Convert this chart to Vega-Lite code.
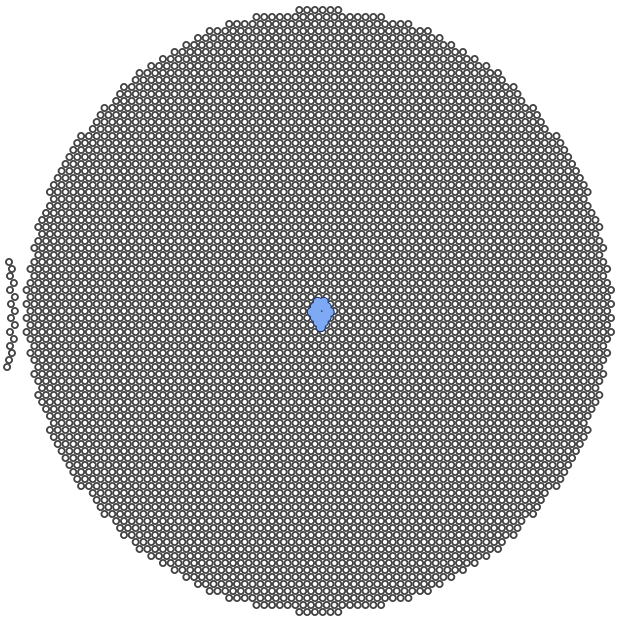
{"$schema":"https://vega.github.io/schema/vega-lite/v6.json","width":618,"height":619,"padding":0,"autosize":{"type":"fit","contains":"padding"},"background":"white","config":{"view":{"stroke":null}},
"datasets":{"blue":[{"x":316,"y":302},{"x":322,"y":302},{"x":313,"y":307},{"x":319,"y":307},{"x":325,"y":307},{"x":310,"y":312},{"x":316,"y":312},{"x":322,"y":312},{"x":328,"y":312},{"x":313,"y":317},{"x":319,"y":317},{"x":325,"y":317},{"x":316,"y":322},{"x":322,"y":322},{"x":319,"y":327}],"center":[{"x":320,"y":311}]},
"encoding":{"x":{"field":"x","type":"quantitative","scale":{"domain":[0,618],"nice":false,"zero":false},"axis":null},"y":{"field":"y","type":"quantitative","scale":{"domain":[0,619],"reverse":true,"nice":false,"zero":false},"axis":null}},
"layer":[
{"data":{"values":"x y\n-1 262\n2 269\n0 276\n4 283\n0 290\n5 297\n1 304\n5 311\n1 318\n5 325\n0 332\n4 339\n0 346\n2 353\n-1 360\n-3 367\n297 10\n305 10\n313 10\n321 10\n329 10\n337 10\n253 17\n261 17\n269 17\n277 17\n285 17\n293 17\n301 17\n309 17\n317 17\n325 17\n333 17\n341 17\n349 17\n357 17\n365 17\n373 17\n381 17\n225 24\n233 24\n241 24\n249 24\n257 24\n265 24\n273 24\n281 24\n289 24\n297 24\n305 24\n313 24\n321 24\n329 24\n337 24\n345 24\n353 24\n361 24\n369 24\n377 24\n385 24\n393 24\n401 24\n409 24\n205 31\n213 31\n221 31\n229 31\n237 31\n245 31\n253 31\n261 31\n269 31\n277 31\n285 31\n293 31\n301 31\n309 31\n317 31\n325 31\n333 31\n341 31\n349 31\n357 31\n365 31\n373 31\n381 31\n389 31\n397 31\n405 31\n413 31\n421 31\n429 31\n193 38\n201 38\n209 38\n217 38\n225 38\n233 38\n241 38\n249 38\n257 38\n265 38\n273 38\n281 38\n289 38\n297 38\n305 38\n313 38\n321 38\n329 38\n337 38\n345 38\n353 38\n361 38\n369 38\n377 38\n385 38\n393 38\n401 38\n409 38\n417 38\n425 38\n433 38\n441 38\n181 45\n189 45\n197 45\n205 45\n213 45\n221 45\n229 45\n237 45\n245 45\n253 45\n261 45\n269 45\n277 45\n285 45\n293 45\n301 45\n309 45\n317 45\n325 45\n333 45\n341 45\n349 45\n357 45\n365 45\n373 45\n381 45\n389 45\n397 45\n405 45\n413 45\n421 45\n429 45\n437 45\n445 45\n453 45\n169 52\n177 52\n185 52\n193 52\n201 52\n209 52\n217 52\n225 52\n233 52\n241 52\n249 52\n257 52\n265 52\n273 52\n281 52\n289 52\n297 52\n305 52\n313 52\n321 52\n329 52\n337 52\n345 52\n353 52\n361 52\n369 52\n377 52\n385 52\n393 52\n401 52\n409 52\n417 52\n425 52\n433 52\n441 52\n449 52\n457 52\n465 52\n157 59\n165 59\n173 59\n181 59\n189 59\n197 59\n205 59\n213 59\n221 59\n229 59\n237 59\n245 59\n253 59\n261 59\n269 59\n277 59\n285 59\n293 59\n301 59\n309 59\n317 59\n325 59\n333 59\n341 59\n349 59\n357 59\n365 59\n373 59\n381 59\n389 59\n397 59\n405 59\n413 59\n421 59\n429 59\n437 59\n445 59\n453 59\n461 59\n469 59\n477 59\n145 66\n153 66\n161 66\n169 66\n177 66\n185 66\n193 66\n201 66\n209 66\n217 66\n225 66\n233 66\n241 66\n249 66\n257 66\n265 66\n273 66\n281 66\n289 66\n297 66\n305 66\n313 66\n321 66\n329 66\n337 66\n345 66\n353 66\n361 66\n369 66\n377 66\n385 66\n393 66\n401 66\n409 66\n417 66\n425 66\n433 66\n441 66\n449 66\n457 66\n465 66\n473 66\n481 66\n489 66\n133 73\n141 73\n149 73\n157 73\n165 73\n173 73\n181 73\n189 73\n197 73\n205 73\n213 73\n221 73\n229 73\n237 73\n245 73\n253 73\n261 73\n269 73\n277 73\n285 73\n293 73\n301 73\n309 73\n317 73\n325 73\n333 73\n341 73\n349 73\n357 73\n365 73\n373 73\n381 73\n389 73\n397 73\n405 73\n413 73\n421 73\n429 73\n437 73\n445 73\n453 73\n461 73\n469 73\n477 73\n485 73\n493 73\n501 73\n129 80\n137 80\n145 80\n153 80\n161 80\n169 80\n177 80\n185 80\n193 80\n201 80\n209 80\n217 80\n225 80\n233 80\n241 80\n249 80\n257 80\n265 80\n273 80\n281 80\n289 80\n297 80\n305 80\n313 80\n321 80\n329 80\n337 80\n345 80\n353 80\n361 80\n369 80\n377 80\n385 80\n393 80\n401 80\n409 80\n417 80\n425 80\n433 80\n441 80\n449 80\n457 80\n465 80\n473 80\n481 80\n489 80\n497 80\n505 80\n117 87\n125 87\n133 87\n141 87\n149 87\n157 87\n165 87\n173 87\n181 87\n189 87\n197 87\n205 87\n213 87\n221 87\n229 87\n237 87\n245 87\n253 87\n261 87\n269 87\n277 87\n285 87\n293 87\n301 87\n309 87\n317 87\n325 87\n333 87\n341 87\n349 87\n357 87\n365 87\n373 87\n381 87\n389 87\n397 87\n405 87\n413 87\n421 87\n429 87\n437 87\n445 87\n453 87\n461 87\n469 87\n477 87\n485 87\n493 87\n501 87\n509 87\n517 87\n113 94\n121 94\n129 94\n137 94\n145 94\n153 94\n161 94\n169 94\n177 94\n185 94\n193 94\n201 94\n209 94\n217 94\n225 94\n233 94\n241 94\n249 94\n257 94\n265 94\n273 94\n281 94\n289 94\n297 94\n305 94\n313 94\n321 94\n329 94\n337 94\n345 94\n353 94\n361 94\n369 94\n377 94\n385 94\n393 94\n401 94\n409 94\n417 94\n425 94\n433 94\n441 94\n449 94\n457 94\n465 94\n473 94\n481 94\n489 94\n497 94\n505 94\n513 94\n521 94\n109 101\n117 101\n125 101\n133 101\n141 101\n149 101\n157 101\n165 101\n173 101\n181 101\n189 101\n197 101\n205 101\n213 101\n221 101\n229 101\n237 101\n245 101\n253 101\n261 101\n269 101\n277 101\n285 101\n293 101\n301 101\n309 101\n317 101\n325 101\n333 101\n341 101\n349 101\n357 101\n365 101\n373 101\n381 101\n389 101\n397 101\n405 101\n413 101\n421 101\n429 101\n437 101\n445 101\n453 101\n461 101\n469 101\n477 101\n485 101\n493 101\n501 101\n509 101\n517 101\n525 101\n97 108\n105 108\n113 108\n121 108\n129 108\n137 108\n145 108\n153 108\n161 108\n169 108\n177 108\n185 108\n193 108\n201 108\n209 108\n217 108\n225 108\n233 108\n241 108\n249 108\n257 108\n265 108\n273 108\n281 108\n289 108\n297 108\n305 108\n313 108\n321 108\n329 108\n337 108\n345 108\n353 108\n361 108\n369 108\n377 108\n385 108\n393 108\n401 108\n409 108\n417 108\n425 108\n433 108\n441 108\n449 108\n457 108\n465 108\n473 108\n481 108\n489 108\n497 108\n505 108\n513 108\n521 108\n529 108\n537 108\n93 115\n101 115\n109 115\n117 115\n125 115\n133 115\n141 115\n149 115\n157 115\n165 115\n173 115\n181 115\n189 115\n197 115\n205 115\n213 115\n221 115\n229 115\n237 115\n245 115\n253 115\n261 115\n269 115\n277 115\n285 115\n293 115\n301 115\n309 115\n317 115\n325 115\n333 115\n341 115\n349 115\n357 115\n365 115\n373 115\n381 115\n389 115\n397 115\n405 115\n413 115\n421 115\n429 115\n437 115\n445 115\n453 115\n461 115\n469 115\n477 115\n485 115\n493 115\n501 115\n509 115\n517 115\n525 115\n533 115\n541 115\n89 122\n97 122\n105 122\n113 122\n121 122\n129 122\n137 122\n145 122\n153 122\n161 122\n169 122\n177 122\n185 122\n193 122\n201 122\n209 122\n217 122\n225 122\n233 122\n241 122\n249 122\n257 122\n265 122\n273 122\n281 122\n289 122\n297 122\n305 122\n313 122\n321 122\n329 122\n337 122\n345 122\n353 122\n361 122\n369 122\n377 122\n385 122\n393 122\n401 122\n409 122\n417 122\n425 122\n433 122\n441 122\n449 122\n457 122\n465 122\n473 122\n481 122\n489 122\n497 122\n505 122\n513 122\n521 122\n529 122\n537 122\n545 122\n85 129\n93 129\n101 129\n109 129\n117 129\n125 129\n133 129\n141 129\n149 129\n157 129\n165 129\n173 129\n181 129\n189 129\n197 129\n205 129\n213 129\n221 129\n229 129\n237 129\n245 129\n253 129\n261 129\n269 129\n277 129\n285 129\n293 129\n301 129\n309 129\n317 129\n325 129\n333 129\n341 129\n349 129\n357 129\n365 129\n373 129\n381 129\n389 129\n397 129\n405 129\n413 129\n421 129\n429 129\n437 129\n445 129\n453 129\n461 129\n469 129\n477 129\n485 129\n493 129\n501 129\n509 129\n517 129\n525 129\n533 129\n541 129\n549 129\n73 136\n81 136\n89 136\n97 136\n105 136\n113 136\n121 136\n129 136\n137 136\n145 136\n153 136\n161 136\n169 136\n177 136\n185 136\n193 136\n201 136\n209 136\n217 136\n225 136\n233 136\n241 136\n249 136\n257 136\n265 136\n273 136\n281 136\n289 136\n297 136\n305 136\n313 136\n321 136\n329 136\n337 136\n345 136\n353 136\n361 136\n369 136\n377 136\n385 136\n393 136\n401 136\n409 136\n417 136\n425 136\n433 136\n441 136\n449 136\n457 136\n465 136\n473 136\n481 136\n489 136\n497 136\n505 136\n513 136\n521 136\n529 136\n537 136\n545 136\n553 136\n561 136\n69 143\n77 143\n85 143\n93 143\n101 143\n109 143\n117 143\n125 143\n133 143\n141 143\n149 143\n157 143\n165 143\n173 143\n181 143\n189 143\n197 143\n205 143\n213 143\n221 143\n229 143\n237 143\n245 143\n253 143\n261 143\n269 143\n277 143\n285 143\n293 143\n301 143\n309 143\n317 143\n325 143\n333 143\n341 143\n349 143\n357 143\n365 143\n373 143\n381 143\n389 143\n397 143\n405 143\n413 143\n421 143\n429 143\n437 143\n445 143\n453 143\n461 143\n469 143\n477 143\n485 143\n493 143\n501 143\n509 143\n517 143\n525 143\n533 143\n541 143\n549 143\n557 143\n565 143\n65 150\n73 150\n81 150\n89 150\n97 150\n105 150\n113 150\n121 150\n129 150\n137 150\n145 150\n153 150\n161 150\n169 150\n177 150\n185 150\n193 150\n201 150\n209 150\n217 150\n225 150\n233 150\n241 150\n249 150\n257 150\n265 150\n273 150\n281 150\n289 150\n297 150\n305 150\n313 150\n321 150\n329 150\n337 150\n345 150\n353 150\n361 150\n369 150\n377 150\n385 150\n393 150\n401 150\n409 150\n417 150\n425 150\n433 150\n441 150\n449 150\n457 150\n465 150\n473 150\n481 150\n489 150\n497 150\n505 150\n513 150\n521 150\n529 150\n537 150\n545 150\n553 150\n561 150\n569 150\n61 157\n69 157\n77 157\n85 157\n93 157\n101 157\n109 157\n117 157\n125 157\n133 157\n141 157\n149 157\n157 157\n165 157\n173 157\n181 157\n189 157\n197 157\n205 157\n213 157\n221 157\n229 157\n237 157\n245 157\n253 157\n261 157\n269 157\n277 157\n285 157\n293 157\n301 157\n309 157\n317 157\n325 157\n333 157\n341 157\n349 157\n357 157\n365 157\n373 157\n381 157\n389 157\n397 157\n405 157\n413 157\n421 157\n429 157\n437 157\n445 157\n453 157\n461 157\n469 157\n477 157\n485 157\n493 157\n501 157\n509 157\n517 157\n525 157\n533 157\n541 157\n549 157\n557 157\n565 157\n573 157\n57 164\n65 164\n73 164\n81 164\n89 164\n97 164\n105 164\n113 164\n121 164\n129 164\n137 164\n145 164\n153 164\n161 164\n169 164\n177 164\n185 164\n193 164\n201 164\n209 164\n217 164\n225 164\n233 164\n241 164\n249 164\n257 164\n265 164\n273 164\n281 164\n289 164\n297 164\n305 164\n313 164\n321 164\n329 164\n337 164\n345 164\n353 164\n361 164\n369 164\n377 164\n385 164\n393 164\n401 164\n409 164\n417 164\n425 164\n433 164\n441 164\n449 164\n457 164\n465 164\n473 164\n481 164\n489 164\n497 164\n505 164\n513 164\n521 164\n529 164\n537 164\n545 164\n553 164\n561 164\n569 164\n577 164\n53 171\n61 171\n69 171\n77 171\n85 171\n93 171\n101 171\n109 171\n117 171\n125 171\n133 171\n141 171\n149 171\n157 171\n165 171\n173 171\n181 171\n189 171\n197 171\n205 171\n213 171\n221 171\n229 171\n237 171\n245 171\n253 171\n261 171\n269 171\n277 171\n285 171\n293 171\n301 171\n309 171\n317 171\n325 171\n333 171\n341 171\n349 171\n357 171\n365 171\n373 171\n381 171\n389 171\n397 171\n405 171\n413 171\n421 171\n429 171\n437 171\n445 171\n453 171\n461 171\n469 171\n477 171\n485 171\n493 171\n501 171\n509 171\n517 171\n525 171\n533 171\n541 171\n549 171\n557 171\n565 171\n573 171\n581 171\n49 178\n57 178\n65 178\n73 178\n81 178\n89 178\n97 178\n105 178\n113 178\n121 178\n129 178\n137 178\n145 178\n153 178\n161 178\n169 178\n177 178\n185 178\n193 178\n201 178\n209 178\n217 178\n225 178\n233 178\n241 178\n249 178\n257 178\n265 178\n273 178\n281 178\n289 178\n297 178\n305 178\n313 178\n321 178\n329 178\n337 178\n345 178\n353 178\n361 178\n369 178\n377 178\n385 178\n393 178\n401 178\n409 178\n417 178\n425 178\n433 178\n441 178\n449 178\n457 178\n465 178\n473 178\n481 178\n489 178\n497 178\n505 178\n513 178\n521 178\n529 178\n537 178\n545 178\n553 178\n561 178\n569 178\n577 178\n585 178\n45 185\n53 185\n61 185\n69 185\n77 185\n85 185\n93 185\n101 185\n109 185\n117 185\n125 185\n133 185\n141 185\n149 185\n157 185\n165 185\n173 185\n181 185\n189 185\n197 185\n205 185\n213 185\n221 185\n229 185\n237 185\n245 185\n253 185\n261 185\n269 185\n277 185\n285 185\n293 185\n301 185\n309 185\n317 185\n325 185\n333 185\n341 185\n349 185\n357 185\n365 185\n373 185\n381 185\n389 185\n397 185\n405 185\n413 185\n421 185\n429 185\n437 185\n445 185\n453 185\n461 185\n469 185\n477 185\n485 185\n493 185\n501 185\n509 185\n517 185\n525 185\n533 185\n541 185\n549 185\n557 185\n565 185\n573 185\n581 185\n589 185\n41 192\n49 192\n57 192\n65 192\n73 192\n81 192\n89 192\n97 192\n105 192\n113 192\n121 192\n129 192\n137 192\n145 192\n153 192\n161 192\n169 192\n177 192\n185 192\n193 192\n201 192\n209 192\n217 192\n225 192\n233 192\n241 192\n249 192\n257 192\n265 192\n273 192\n281 192\n289 192\n297 192\n305 192\n313 192\n321 192\n329 192\n337 192\n345 192\n353 192\n361 192\n369 192\n377 192\n385 192\n393 192\n401 192\n409 192\n417 192\n425 192\n433 192\n441 192\n449 192\n457 192\n465 192\n473 192\n481 192\n489 192\n497 192\n505 192\n513 192\n521 192\n529 192\n537 192\n545 192\n553 192\n561 192\n569 192\n577 192\n585 192\n593 192\n45 199\n53 199\n61 199\n69 199\n77 199\n85 199\n93 199\n101 199\n109 199\n117 199\n125 199\n133 199\n141 199\n149 199\n157 199\n165 199\n173 199\n181 199\n189 199\n197 199\n205 199\n213 199\n221 199\n229 199\n237 199\n245 199\n253 199\n261 199\n269 199\n277 199\n285 199\n293 199\n301 199\n309 199\n317 199\n325 199\n333 199\n341 199\n349 199\n357 199\n365 199\n373 199\n381 199\n389 199\n397 199\n405 199\n413 199\n421 199\n429 199\n437 199\n445 199\n453 199\n461 199\n469 199\n477 199\n485 199\n493 199\n501 199\n509 199\n517 199\n525 199\n533 199\n541 199\n549 199\n557 199\n565 199\n573 199\n581 199\n589 199\n41 206\n49 206\n57 206\n65 206\n73 206\n81 206\n89 206\n97 206\n105 206\n113 206\n121 206\n129 206\n137 206\n145 206\n153 206\n161 206\n169 206\n177 206\n185 206\n193 206\n201 206\n209 206\n217 206\n225 206\n233 206\n241 206\n249 206\n257 206\n265 206\n273 206\n281 206\n289 206\n297 206\n305 206\n313 206\n321 206\n329 206\n337 206\n345 206\n353 206\n361 206\n369 206\n377 206\n385 206\n393 206\n401 206\n409 206\n417 206\n425 206\n433 206\n441 206\n449 206\n457 206\n465 206\n473 206\n481 206\n489 206\n497 206\n505 206\n513 206\n521 206\n529 206\n537 206\n545 206\n553 206\n561 206\n569 206\n577 206\n585 206\n593 206\n37 213\n45 213\n53 213\n61 213\n69 213\n77 213\n85 213\n93 213\n101 213\n109 213\n117 213\n125 213\n133 213\n141 213\n149 213\n157 213\n165 213\n173 213\n181 213\n189 213\n197 213\n205 213\n213 213\n221 213\n229 213\n237 213\n245 213\n253 213\n261 213\n269 213\n277 213\n285 213\n293 213\n301 213\n309 213\n317 213\n325 213\n333 213\n341 213\n349 213\n357 213\n365 213\n373 213\n381 213\n389 213\n397 213\n405 213\n413 213\n421 213\n429 213\n437 213\n445 213\n453 213\n461 213\n469 213\n477 213\n485 213\n493 213\n501 213\n509 213\n517 213\n525 213\n533 213\n541 213\n549 213\n557 213\n565 213\n573 213\n581 213\n589 213\n597 213\n33 220\n41 220\n49 220\n57 220\n65 220\n73 220\n81 220\n89 220\n97 220\n105 220\n113 220\n121 220\n129 220\n137 220\n145 220\n153 220\n161 220\n169 220\n177 220\n185 220\n193 220\n201 220\n209 220\n217 220\n225 220\n233 220\n241 220\n249 220\n257 220\n265 220\n273 220\n281 220\n289 220\n297 220\n305 220\n313 220\n321 220\n329 220\n337 220\n345 220\n353 220\n361 220\n369 220\n377 220\n385 220\n393 220\n401 220\n409 220\n417 220\n425 220\n433 220\n441 220\n449 220\n457 220\n465 220\n473 220\n481 220\n489 220\n497 220\n505 220\n513 220\n521 220\n529 220\n537 220\n545 220\n553 220\n561 220\n569 220\n577 220\n585 220\n593 220\n601 220\n29 227\n37 227\n45 227\n53 227\n61 227\n69 227\n77 227\n85 227\n93 227\n101 227\n109 227\n117 227\n125 227\n133 227\n141 227\n149 227\n157 227\n165 227\n173 227\n181 227\n189 227\n197 227\n205 227\n213 227\n221 227\n229 227\n237 227\n245 227\n253 227\n261 227\n269 227\n277 227\n285 227\n293 227\n301 227\n309 227\n317 227\n325 227\n333 227\n341 227\n349 227\n357 227\n365 227\n373 227\n381 227\n389 227\n397 227\n405 227\n413 227\n421 227\n429 227\n437 227\n445 227\n453 227\n461 227\n469 227\n477 227\n485 227\n493 227\n501 227\n509 227\n517 227\n525 227\n533 227\n541 227\n549 227\n557 227\n565 227\n573 227\n581 227\n589 227\n597 227\n605 227\n33 234\n41 234\n49 234\n57 234\n65 234\n73 234\n81 234\n89 234\n97 234\n105 234\n113 234\n121 234\n129 234\n137 234\n145 234\n153 234\n161 234\n169 234\n177 234\n185 234\n193 234\n201 234\n209 234\n217 234\n225 234\n233 234\n241 234\n249 234\n257 234\n265 234\n273 234\n281 234\n289 234\n297 234\n305 234\n313 234\n321 234\n329 234\n337 234\n345 234\n353 234\n361 234\n369 234\n377 234\n385 234\n393 234\n401 234\n409 234\n417 234\n425 234\n433 234\n441 234\n449 234\n457 234\n465 234\n473 234\n481 234\n489 234\n497 234\n505 234\n513 234\n521 234\n529 234\n537 234\n545 234\n553 234\n561 234\n569 234\n577 234\n585 234\n593 234\n601 234\n29 241\n37 241\n45 241\n53 241\n61 241\n69 241\n77 241\n85 241\n93 241\n101 241\n109 241\n117 241\n125 241\n133 241\n141 241\n149 241\n157 241\n165 241\n173 241\n181 241\n189 241\n197 241\n205 241\n213 241\n221 241\n229 241\n237 241\n245 241\n253 241\n261 241\n269 241\n277 241\n285 241\n293 241\n301 241\n309 241\n317 241\n325 241\n333 241\n341 241\n349 241\n357 241\n365 241\n373 241\n381 241\n389 241\n397 241\n405 241\n413 241\n421 241\n429 241\n437 241\n445 241\n453 241\n461 241\n469 241\n477 241\n485 241\n493 241\n501 241\n509 241\n517 241\n525 241\n533 241\n541 241\n549 241\n557 241\n565 241\n573 241\n581 241\n589 241\n597 241\n605 241\n25 248\n33 248\n41 248\n49 248\n57 248\n65 248\n73 248\n81 248\n89 248\n97 248\n105 248\n113 248\n121 248\n129 248\n137 248\n145 248\n153 248\n161 248\n169 248\n177 248\n185 248\n193 248\n201 248\n209 248\n217 248\n225 248\n233 248\n241 248\n249 248\n257 248\n265 248\n273 248\n281 248\n289 248\n297 248\n305 248\n313 248\n321 248\n329 248\n337 248\n345 248\n353 248\n361 248\n369 248\n377 248\n385 248\n393 248\n401 248\n409 248\n417 248\n425 248\n433 248\n441 248\n449 248\n457 248\n465 248\n473 248\n481 248\n489 248\n497 248\n505 248\n513 248\n521 248\n529 248\n537 248\n545 248\n553 248\n561 248\n569 248\n577 248\n585 248\n593 248\n601 248\n609 248\n29 255\n37 255\n45 255\n53 255\n61 255\n69 255\n77 255\n85 255\n93 255\n101 255\n109 255\n117 255\n125 255\n133 255\n141 255\n149 255\n157 255\n165 255\n173 255\n181 255\n189 255\n197 255\n205 255\n213 255\n221 255\n229 255\n237 255\n245 255\n253 255\n261 255\n269 255\n277 255\n285 255\n293 255\n301 255\n309 255\n317 255\n325 255\n333 255\n341 255\n349 255\n357 255\n365 255\n373 255\n381 255\n389 255\n397 255\n405 255\n413 255\n421 255\n429 255\n437 255\n445 255\n453 255\n461 255\n469 255\n477 255\n485 255\n493 255\n501 255\n509 255\n517 255\n525 255\n533 255\n541 255\n549 255\n557 255\n565 255\n573 255\n581 255\n589 255\n597 255\n605 255\n25 262\n33 262\n41 262\n49 262\n57 262\n65 262\n73 262\n81 262\n89 262\n97 262\n105 262\n113 262\n121 262\n129 262\n137 262\n145 262\n153 262\n161 262\n169 262\n177 262\n185 262\n193 262\n201 262\n209 262\n217 262\n225 262\n233 262\n241 262\n249 262\n257 262\n265 262\n273 262\n281 262\n289 262\n297 262\n305 262\n313 262\n321 262\n329 262\n337 262\n345 262\n353 262\n361 262\n369 262\n377 262\n385 262\n393 262\n401 262\n409 262\n417 262\n425 262\n433 262\n441 262\n449 262\n457 262\n465 262\n473 262\n481 262\n489 262\n497 262\n505 262\n513 262\n521 262\n529 262\n537 262\n545 262\n553 262\n561 262\n569 262\n577 262\n585 262\n593 262\n601 262\n609 262\n21 269\n29 269\n37 269\n45 269\n53 269\n61 269\n69 269\n77 269\n85 269\n93 269\n101 269\n109 269\n117 269\n125 269\n133 269\n141 269\n149 269\n157 269\n165 269\n173 269\n181 269\n189 269\n197 269\n205 269\n213 269\n221 269\n229 269\n237 269\n245 269\n253 269\n261 269\n269 269\n277 269\n285 269\n293 269\n301 269\n309 269\n317 269\n325 269\n333 269\n341 269\n349 269\n357 269\n365 269\n373 269\n381 269\n389 269\n397 269\n405 269\n413 269\n421 269\n429 269\n437 269\n445 269\n453 269\n461 269\n469 269\n477 269\n485 269\n493 269\n501 269\n509 269\n517 269\n525 269\n533 269\n541 269\n549 269\n557 269\n565 269\n573 269\n581 269\n589 269\n597 269\n605 269\n613 269\n25 276\n33 276\n41 276\n49 276\n57 276\n65 276\n73 276\n81 276\n89 276\n97 276\n105 276\n113 276\n121 276\n129 276\n137 276\n145 276\n153 276\n161 276\n169 276\n177 276\n185 276\n193 276\n201 276\n209 276\n217 276\n225 276\n233 276\n241 276\n249 276\n257 276\n265 276\n273 276\n281 276\n289 276\n297 276\n305 276\n313 276\n321 276\n329 276\n337 276\n345 276\n353 276\n361 276\n369 276\n377 276\n385 276\n393 276\n401 276\n409 276\n417 276\n425 276\n433 276\n441 276\n449 276\n457 276\n465 276\n473 276\n481 276\n489 276\n497 276\n505 276\n513 276\n521 276\n529 276\n537 276\n545 276\n553 276\n561 276\n569 276\n577 276\n585 276\n593 276\n601 276\n609 276\n21 283\n29 283\n37 283\n45 283\n53 283\n61 283\n69 283\n77 283\n85 283\n93 283\n101 283\n109 283\n117 283\n125 283\n133 283\n141 283\n149 283\n157 283\n165 283\n173 283\n181 283\n189 283\n197 283\n205 283\n213 283\n221 283\n229 283\n237 283\n245 283\n253 283\n261 283\n269 283\n277 283\n285 283\n293 283\n301 283\n309 283\n317 283\n325 283\n333 283\n341 283\n349 283\n357 283\n365 283\n373 283\n381 283\n389 283\n397 283\n405 283\n413 283\n421 283\n429 283\n437 283\n445 283\n453 283\n461 283\n469 283\n477 283\n485 283\n493 283\n501 283\n509 283\n517 283\n525 283\n533 283\n541 283\n549 283\n557 283\n565 283\n573 283\n581 283\n589 283\n597 283\n605 283\n613 283\n17 290\n25 290\n33 290\n41 290\n49 290\n57 290\n65 290\n73 290\n81 290\n89 290\n97 290\n105 290\n113 290\n121 290\n129 290\n137 290\n145 290\n153 290\n161 290\n169 290\n177 290\n185 290\n193 290\n201 290\n209 290\n217 290\n225 290\n233 290\n241 290\n249 290\n257 290\n265 290\n273 290\n281 290\n289 290\n297 290\n305 290\n313 290\n321 290\n329 290\n337 290\n345 290\n353 290\n361 290\n369 290\n377 290\n385 290\n393 290\n401 290\n409 290\n417 290\n425 290\n433 290\n441 290\n449 290\n457 290\n465 290\n473 290\n481 290\n489 290\n497 290\n505 290\n513 290\n521 290\n529 290\n537 290\n545 290\n553 290\n561 290\n569 290\n577 290\n585 290\n593 290\n601 290\n609 290\n617 290\n21 297\n29 297\n37 297\n45 297\n53 297\n61 297\n69 297\n77 297\n85 297\n93 297\n101 297\n109 297\n117 297\n125 297\n133 297\n141 297\n149 297\n157 297\n165 297\n173 297\n181 297\n189 297\n197 297\n205 297\n213 297\n221 297\n229 297\n237 297\n245 297\n253 297\n261 297\n269 297\n277 297\n285 297\n293 297\n301 297\n309 297\n317 297\n325 297\n333 297\n341 297\n349 297\n357 297\n365 297\n373 297\n381 297\n389 297\n397 297\n405 297\n413 297\n421 297\n429 297\n437 297\n445 297\n453 297\n461 297\n469 297\n477 297\n485 297\n493 297\n501 297\n509 297\n517 297\n525 297\n533 297\n541 297\n549 297\n557 297\n565 297\n573 297\n581 297\n589 297\n597 297\n605 297\n613 297\n17 304\n25 304\n33 304\n41 304\n49 304\n57 304\n65 304\n73 304\n81 304\n89 304\n97 304\n105 304\n113 304\n121 304\n129 304\n137 304\n145 304\n153 304\n161 304\n169 304\n177 304\n185 304\n193 304\n201 304\n209 304\n217 304\n225 304\n233 304\n241 304\n249 304\n257 304\n265 304\n273 304\n281 304\n289 304\n297 304\n305 304\n313 304\n321 304\n329 304\n337 304\n345 304\n353 304\n361 304\n369 304\n377 304\n385 304\n393 304\n401 304\n409 304\n417 304\n425 304\n433 304\n441 304\n449 304\n457 304\n465 304\n473 304\n481 304\n489 304\n497 304\n505 304\n513 304\n521 304\n529 304\n537 304\n545 304\n553 304\n561 304\n569 304\n577 304\n585 304\n593 304\n601 304\n609 304\n617 304\n21 311\n29 311\n37 311\n45 311\n53 311\n61 311\n69 311\n77 311\n85 311\n93 311\n101 311\n109 311\n117 311\n125 311\n133 311\n141 311\n149 311\n157 311\n165 311\n173 311\n181 311\n189 311\n197 311\n205 311\n213 311\n221 311\n229 311\n237 311\n245 311\n253 311\n261 311\n269 311\n277 311\n285 311\n293 311\n301 311\n309 311\n317 311\n325 311\n333 311\n341 311\n349 311\n357 311\n365 311\n373 311\n381 311\n389 311\n397 311\n405 311\n413 311\n421 311\n429 311\n437 311\n445 311\n453 311\n461 311\n469 311\n477 311\n485 311\n493 311\n501 311\n509 311\n517 311\n525 311\n533 311\n541 311\n549 311\n557 311\n565 311\n573 311\n581 311\n589 311\n597 311\n605 311\n613 311\n17 318\n25 318\n33 318\n41 318\n49 318\n57 318\n65 318\n73 318\n81 318\n89 318\n97 318\n105 318\n113 318\n121 318\n129 318\n137 318\n145 318\n153 318\n161 318\n169 318\n177 318\n185 318\n193 318\n201 318\n209 318\n217 318\n225 318\n233 318\n241 318\n249 318\n257 318\n265 318\n273 318\n281 318\n289 318\n297 318\n305 318\n313 318\n321 318\n329 318\n337 318\n345 318\n353 318\n361 318\n369 318\n377 318\n385 318\n393 318\n401 318\n409 318\n417 318\n425 318\n433 318\n441 318\n449 318\n457 318\n465 318\n473 318\n481 318\n489 318\n497 318\n505 318\n513 318\n521 318\n529 318\n537 318\n545 318\n553 318\n561 318\n569 318\n577 318\n585 318\n593 318\n601 318\n609 318\n617 318\n21 325\n29 325\n37 325\n45 325\n53 325\n61 325\n69 325\n77 325\n85 325\n93 325\n101 325\n109 325\n117 325\n125 325\n133 325\n141 325\n149 325\n157 325\n165 325\n173 325\n181 325\n189 325\n197 325\n205 325\n213 325\n221 325\n229 325\n237 325\n245 325\n253 325\n261 325\n269 325\n277 325\n285 325\n293 325\n301 325\n309 325\n317 325\n325 325\n333 325\n341 325\n349 325\n357 325\n365 325\n373 325\n381 325\n389 325\n397 325\n405 325\n413 325\n421 325\n429 325\n437 325\n445 325\n453 325\n461 325\n469 325\n477 325\n485 325\n493 325\n501 325\n509 325\n517 325\n525 325\n533 325\n541 325\n549 325\n557 325\n565 325\n573 325\n581 325\n589 325\n597 325\n605 325\n613 325\n17 332\n25 332\n33 332\n41 332\n49 332\n57 332\n65 332\n73 332\n81 332\n89 332\n97 332\n105 332\n113 332\n121 332\n129 332\n137 332\n145 332\n153 332\n161 332\n169 332\n177 332\n185 332\n193 332\n201 332\n209 332\n217 332\n225 332\n233 332\n241 332\n249 332\n257 332\n265 332\n273 332\n281 332\n289 332\n297 332\n305 332\n313 332\n321 332\n329 332\n337 332\n345 332\n353 332\n361 332\n369 332\n377 332\n385 332\n393 332\n401 332\n409 332\n417 332\n425 332\n433 332\n441 332\n449 332\n457 332\n465 332\n473 332\n481 332\n489 332\n497 332\n505 332\n513 332\n521 332\n529 332\n537 332\n545 332\n553 332\n561 332\n569 332\n577 332\n585 332\n593 332\n601 332\n609 332\n617 332\n21 339\n29 339\n37 339\n45 339\n53 339\n61 339\n69 339\n77 339\n85 339\n93 339\n101 339\n109 339\n117 339\n125 339\n133 339\n141 339\n149 339\n157 339\n165 339\n173 339\n181 339\n189 339\n197 339\n205 339\n213 339\n221 339\n229 339\n237 339\n245 339\n253 339\n261 339\n269 339\n277 339\n285 339\n293 339\n301 339\n309 339\n317 339\n325 339\n333 339\n341 339\n349 339\n357 339\n365 339\n373 339\n381 339\n389 339\n397 339\n405 339\n413 339\n421 339\n429 339\n437 339\n445 339\n453 339\n461 339\n469 339\n477 339\n485 339\n493 339\n501 339\n509 339\n517 339\n525 339\n533 339\n541 339\n549 339\n557 339\n565 339\n573 339\n581 339\n589 339\n597 339\n605 339\n613 339\n25 346\n33 346\n41 346\n49 346\n57 346\n65 346\n73 346\n81 346\n89 346\n97 346\n105 346\n113 346\n121 346\n129 346\n137 346\n145 346\n153 346\n161 346\n169 346\n177 346\n185 346\n193 346\n201 346\n209 346\n217 346\n225 346\n233 346\n241 346\n249 346\n257 346\n265 346\n273 346\n281 346\n289 346\n297 346\n305 346\n313 346\n321 346\n329 346\n337 346\n345 346\n353 346\n361 346\n369 346\n377 346\n385 346\n393 346\n401 346\n409 346\n417 346\n425 346\n433 346\n441 346\n449 346\n457 346\n465 346\n473 346\n481 346\n489 346\n497 346\n505 346\n513 346\n521 346\n529 346\n537 346\n545 346\n553 346\n561 346\n569 346\n577 346\n585 346\n593 346\n601 346\n609 346\n21 353\n29 353\n37 353\n45 353\n53 353\n61 353\n69 353\n77 353\n85 353\n93 353\n101 353\n109 353\n117 353\n125 353\n133 353\n141 353\n149 353\n157 353\n165 353\n173 353\n181 353\n189 353\n197 353\n205 353\n213 353\n221 353\n229 353\n237 353\n245 353\n253 353\n261 353\n269 353\n277 353\n285 353\n293 353\n301 353\n309 353\n317 353\n325 353\n333 353\n341 353\n349 353\n357 353\n365 353\n373 353\n381 353\n389 353\n397 353\n405 353\n413 353\n421 353\n429 353\n437 353\n445 353\n453 353\n461 353\n469 353\n477 353\n485 353\n493 353\n501 353\n509 353\n517 353\n525 353\n533 353\n541 353\n549 353\n557 353\n565 353\n573 353\n581 353\n589 353\n597 353\n605 353\n613 353\n25 360\n33 360\n41 360\n49 360\n57 360\n65 360\n73 360\n81 360\n89 360\n97 360\n105 360\n113 360\n121 360\n129 360\n137 360\n145 360\n153 360\n161 360\n169 360\n177 360\n185 360\n193 360\n201 360\n209 360\n217 360\n225 360\n233 360\n241 360\n249 360\n257 360\n265 360\n273 360\n281 360\n289 360\n297 360\n305 360\n313 360\n321 360\n329 360\n337 360\n345 360\n353 360\n361 360\n369 360\n377 360\n385 360\n393 360\n401 360\n409 360\n417 360\n425 360\n433 360\n441 360\n449 360\n457 360\n465 360\n473 360\n481 360\n489 360\n497 360\n505 360\n513 360\n521 360\n529 360\n537 360\n545 360\n553 360\n561 360\n569 360\n577 360\n585 360\n593 360\n601 360\n609 360\n29 367\n37 367\n45 367\n53 367\n61 367\n69 367\n77 367\n85 367\n93 367\n101 367\n109 367\n117 367\n125 367\n133 367\n141 367\n149 367\n157 367\n165 367\n173 367\n181 367\n189 367\n197 367\n205 367\n213 367\n221 367\n229 367\n237 367\n245 367\n253 367\n261 367\n269 367\n277 367\n285 367\n293 367\n301 367\n309 367\n317 367\n325 367\n333 367\n341 367\n349 367\n357 367\n365 367\n373 367\n381 367\n389 367\n397 367\n405 367\n413 367\n421 367\n429 367\n437 367\n445 367\n453 367\n461 367\n469 367\n477 367\n485 367\n493 367\n501 367\n509 367\n517 367\n525 367\n533 367\n541 367\n549 367\n557 367\n565 367\n573 367\n581 367\n589 367\n597 367\n605 367\n25 374\n33 374\n41 374\n49 374\n57 374\n65 374\n73 374\n81 374\n89 374\n97 374\n105 374\n113 374\n121 374\n129 374\n137 374\n145 374\n153 374\n161 374\n169 374\n177 374\n185 374\n193 374\n201 374\n209 374\n217 374\n225 374\n233 374\n241 374\n249 374\n257 374\n265 374\n273 374\n281 374\n289 374\n297 374\n305 374\n313 374\n321 374\n329 374\n337 374\n345 374\n353 374\n361 374\n369 374\n377 374\n385 374\n393 374\n401 374\n409 374\n417 374\n425 374\n433 374\n441 374\n449 374\n457 374\n465 374\n473 374\n481 374\n489 374\n497 374\n505 374\n513 374\n521 374\n529 374\n537 374\n545 374\n553 374\n561 374\n569 374\n577 374\n585 374\n593 374\n601 374\n609 374\n29 381\n37 381\n45 381\n53 381\n61 381\n69 381\n77 381\n85 381\n93 381\n101 381\n109 381\n117 381\n125 381\n133 381\n141 381\n149 381\n157 381\n165 381\n173 381\n181 381\n189 381\n197 381\n205 381\n213 381\n221 381\n229 381\n237 381\n245 381\n253 381\n261 381\n269 381\n277 381\n285 381\n293 381\n301 381\n309 381\n317 381\n325 381\n333 381\n341 381\n349 381\n357 381\n365 381\n373 381\n381 381\n389 381\n397 381\n405 381\n413 381\n421 381\n429 381\n437 381\n445 381\n453 381\n461 381\n469 381\n477 381\n485 381\n493 381\n501 381\n509 381\n517 381\n525 381\n533 381\n541 381\n549 381\n557 381\n565 381\n573 381\n581 381\n589 381\n597 381\n605 381\n33 388\n41 388\n49 388\n57 388\n65 388\n73 388\n81 388\n89 388\n97 388\n105 388\n113 388\n121 388\n129 388\n137 388\n145 388\n153 388\n161 388\n169 388\n177 388\n185 388\n193 388\n201 388\n209 388\n217 388\n225 388\n233 388\n241 388\n249 388\n257 388\n265 388\n273 388\n281 388\n289 388\n297 388\n305 388\n313 388\n321 388\n329 388\n337 388\n345 388\n353 388\n361 388\n369 388\n377 388\n385 388\n393 388\n401 388\n409 388\n417 388\n425 388\n433 388\n441 388\n449 388\n457 388\n465 388\n473 388\n481 388\n489 388\n497 388\n505 388\n513 388\n521 388\n529 388\n537 388\n545 388\n553 388\n561 388\n569 388\n577 388\n585 388\n593 388\n601 388\n29 395\n37 395\n45 395\n53 395\n61 395\n69 395\n77 395\n85 395\n93 395\n101 395\n109 395\n117 395\n125 395\n133 395\n141 395\n149 395\n157 395\n165 395\n173 395\n181 395\n189 395\n197 395\n205 395\n213 395\n221 395\n229 395\n237 395\n245 395\n253 395\n261 395\n269 395\n277 395\n285 395\n293 395\n301 395\n309 395\n317 395\n325 395\n333 395\n341 395\n349 395\n357 395\n365 395\n373 395\n381 395\n389 395\n397 395\n405 395\n413 395\n421 395\n429 395\n437 395\n445 395\n453 395\n461 395\n469 395\n477 395\n485 395\n493 395\n501 395\n509 395\n517 395\n525 395\n533 395\n541 395\n549 395\n557 395\n565 395\n573 395\n581 395\n589 395\n597 395\n605 395\n33 402\n41 402\n49 402\n57 402\n65 402\n73 402\n81 402\n89 402\n97 402\n105 402\n113 402\n121 402\n129 402\n137 402\n145 402\n153 402\n161 402\n169 402\n177 402\n185 402\n193 402\n201 402\n209 402\n217 402\n225 402\n233 402\n241 402\n249 402\n257 402\n265 402\n273 402\n281 402\n289 402\n297 402\n305 402\n313 402\n321 402\n329 402\n337 402\n345 402\n353 402\n361 402\n369 402\n377 402\n385 402\n393 402\n401 402\n409 402\n417 402\n425 402\n433 402\n441 402\n449 402\n457 402\n465 402\n473 402\n481 402\n489 402\n497 402\n505 402\n513 402\n521 402\n529 402\n537 402\n545 402\n553 402\n561 402\n569 402\n577 402\n585 402\n593 402\n601 402\n37 409\n45 409\n53 409\n61 409\n69 409\n77 409\n85 409\n93 409\n101 409\n109 409\n117 409\n125 409\n133 409\n141 409\n149 409\n157 409\n165 409\n173 409\n181 409\n189 409\n197 409\n205 409\n213 409\n221 409\n229 409\n237 409\n245 409\n253 409\n261 409\n269 409\n277 409\n285 409\n293 409\n301 409\n309 409\n317 409\n325 409\n333 409\n341 409\n349 409\n357 409\n365 409\n373 409\n381 409\n389 409\n397 409\n405 409\n413 409\n421 409\n429 409\n437 409\n445 409\n453 409\n461 409\n469 409\n477 409\n485 409\n493 409\n501 409\n509 409\n517 409\n525 409\n533 409\n541 409\n549 409\n557 409\n565 409\n573 409\n581 409\n589 409\n597 409\n41 416\n49 416\n57 416\n65 416\n73 416\n81 416\n89 416\n97 416\n105 416\n113 416\n121 416\n129 416\n137 416\n145 416\n153 416\n161 416\n169 416\n177 416\n185 416\n193 416\n201 416\n209 416\n217 416\n225 416\n233 416\n241 416\n249 416\n257 416\n265 416\n273 416\n281 416\n289 416\n297 416\n305 416\n313 416\n321 416\n329 416\n337 416\n345 416\n353 416\n361 416\n369 416\n377 416\n385 416\n393 416\n401 416\n409 416\n417 416\n425 416\n433 416\n441 416\n449 416\n457 416\n465 416\n473 416\n481 416\n489 416\n497 416\n505 416\n513 416\n521 416\n529 416\n537 416\n545 416\n553 416\n561 416\n569 416\n577 416\n585 416\n593 416\n45 423\n53 423\n61 423\n69 423\n77 423\n85 423\n93 423\n101 423\n109 423\n117 423\n125 423\n133 423\n141 423\n149 423\n157 423\n165 423\n173 423\n181 423\n189 423\n197 423\n205 423\n213 423\n221 423\n229 423\n237 423\n245 423\n253 423\n261 423\n269 423\n277 423\n285 423\n293 423\n301 423\n309 423\n317 423\n325 423\n333 423\n341 423\n349 423\n357 423\n365 423\n373 423\n381 423\n389 423\n397 423\n405 423\n413 423\n421 423\n429 423\n437 423\n445 423\n453 423\n461 423\n469 423\n477 423\n485 423\n493 423\n501 423\n509 423\n517 423\n525 423\n533 423\n541 423\n549 423\n557 423\n565 423\n573 423\n581 423\n589 423\n41 430\n49 430\n57 430\n65 430\n73 430\n81 430\n89 430\n97 430\n105 430\n113 430\n121 430\n129 430\n137 430\n145 430\n153 430\n161 430\n169 430\n177 430\n185 430\n193 430\n201 430\n209 430\n217 430\n225 430\n233 430\n241 430\n249 430\n257 430\n265 430\n273 430\n281 430\n289 430\n297 430\n305 430\n313 430\n321 430\n329 430\n337 430\n345 430\n353 430\n361 430\n369 430\n377 430\n385 430\n393 430\n401 430\n409 430\n417 430\n425 430\n433 430\n441 430\n449 430\n457 430\n465 430\n473 430\n481 430\n489 430\n497 430\n505 430\n513 430\n521 430\n529 430\n537 430\n545 430\n553 430\n561 430\n569 430\n577 430\n585 430\n593 430\n45 437\n53 437\n61 437\n69 437\n77 437\n85 437\n93 437\n101 437\n109 437\n117 437\n125 437\n133 437\n141 437\n149 437\n157 437\n165 437\n173 437\n181 437\n189 437\n197 437\n205 437\n213 437\n221 437\n229 437\n237 437\n245 437\n253 437\n261 437\n269 437\n277 437\n285 437\n293 437\n301 437\n309 437\n317 437\n325 437\n333 437\n341 437\n349 437\n357 437\n365 437\n373 437\n381 437\n389 437\n397 437\n405 437\n413 437\n421 437\n429 437\n437 437\n445 437\n453 437\n461 437\n469 437\n477 437\n485 437\n493 437\n501 437\n509 437\n517 437\n525 437\n533 437\n541 437\n549 437\n557 437\n565 437\n573 437\n581 437\n589 437\n49 444\n57 444\n65 444\n73 444\n81 444\n89 444\n97 444\n105 444\n113 444\n121 444\n129 444\n137 444\n145 444\n153 444\n161 444\n169 444\n177 444\n185 444\n193 444\n201 444\n209 444\n217 444\n225 444\n233 444\n241 444\n249 444\n257 444\n265 444\n273 444\n281 444\n289 444\n297 444\n305 444\n313 444\n321 444\n329 444\n337 444\n345 444\n353 444\n361 444\n369 444\n377 444\n385 444\n393 444\n401 444\n409 444\n417 444\n425 444\n433 444\n441 444\n449 444\n457 444\n465 444\n473 444\n481 444\n489 444\n497 444\n505 444\n513 444\n521 444\n529 444\n537 444\n545 444\n553 444\n561 444\n569 444\n577 444\n585 444\n53 451\n61 451\n69 451\n77 451\n85 451\n93 451\n101 451\n109 451\n117 451\n125 451\n133 451\n141 451\n149 451\n157 451\n165 451\n173 451\n181 451\n189 451\n197 451\n205 451\n213 451\n221 451\n229 451\n237 451\n245 451\n253 451\n261 451\n269 451\n277 451\n285 451\n293 451\n301 451\n309 451\n317 451\n325 451\n333 451\n341 451\n349 451\n357 451\n365 451\n373 451\n381 451\n389 451\n397 451\n405 451\n413 451\n421 451\n429 451\n437 451\n445 451\n453 451\n461 451\n469 451\n477 451\n485 451\n493 451\n501 451\n509 451\n517 451\n525 451\n533 451\n541 451\n549 451\n557 451\n565 451\n573 451\n581 451\n57 458\n65 458\n73 458\n81 458\n89 458\n97 458\n105 458\n113 458\n121 458\n129 458\n137 458\n145 458\n153 458\n161 458\n169 458\n177 458\n185 458\n193 458\n201 458\n209 458\n217 458\n225 458\n233 458\n241 458\n249 458\n257 458\n265 458\n273 458\n281 458\n289 458\n297 458\n305 458\n313 458\n321 458\n329 458\n337 458\n345 458\n353 458\n361 458\n369 458\n377 458\n385 458\n393 458\n401 458\n409 458\n417 458\n425 458\n433 458\n441 458\n449 458\n457 458\n465 458\n473 458\n481 458\n489 458\n497 458\n505 458\n513 458\n521 458\n529 458\n537 458\n545 458\n553 458\n561 458\n569 458\n577 458\n61 465\n69 465\n77 465\n85 465\n93 465\n101 465\n109 465\n117 465\n125 465\n133 465\n141 465\n149 465\n157 465\n165 465\n173 465\n181 465\n189 465\n197 465\n205 465\n213 465\n221 465\n229 465\n237 465\n245 465\n253 465\n261 465\n269 465\n277 465\n285 465\n293 465\n301 465\n309 465\n317 465\n325 465\n333 465\n341 465\n349 465\n357 465\n365 465\n373 465\n381 465\n389 465\n397 465\n405 465\n413 465\n421 465\n429 465\n437 465\n445 465\n453 465\n461 465\n469 465\n477 465\n485 465\n493 465\n501 465\n509 465\n517 465\n525 465\n533 465\n541 465\n549 465\n557 465\n565 465\n573 465\n65 472\n73 472\n81 472\n89 472\n97 472\n105 472\n113 472\n121 472\n129 472\n137 472\n145 472\n153 472\n161 472\n169 472\n177 472\n185 472\n193 472\n201 472\n209 472\n217 472\n225 472\n233 472\n241 472\n249 472\n257 472\n265 472\n273 472\n281 472\n289 472\n297 472\n305 472\n313 472\n321 472\n329 472\n337 472\n345 472\n353 472\n361 472\n369 472\n377 472\n385 472\n393 472\n401 472\n409 472\n417 472\n425 472\n433 472\n441 472\n449 472\n457 472\n465 472\n473 472\n481 472\n489 472\n497 472\n505 472\n513 472\n521 472\n529 472\n537 472\n545 472\n553 472\n561 472\n569 472\n69 479\n77 479\n85 479\n93 479\n101 479\n109 479\n117 479\n125 479\n133 479\n141 479\n149 479\n157 479\n165 479\n173 479\n181 479\n189 479\n197 479\n205 479\n213 479\n221 479\n229 479\n237 479\n245 479\n253 479\n261 479\n269 479\n277 479\n285 479\n293 479\n301 479\n309 479\n317 479\n325 479\n333 479\n341 479\n349 479\n357 479\n365 479\n373 479\n381 479\n389 479\n397 479\n405 479\n413 479\n421 479\n429 479\n437 479\n445 479\n453 479\n461 479\n469 479\n477 479\n485 479\n493 479\n501 479\n509 479\n517 479\n525 479\n533 479\n541 479\n549 479\n557 479\n565 479\n73 486\n81 486\n89 486\n97 486\n105 486\n113 486\n121 486\n129 486\n137 486\n145 486\n153 486\n161 486\n169 486\n177 486\n185 486\n193 486\n201 486\n209 486\n217 486\n225 486\n233 486\n241 486\n249 486\n257 486\n265 486\n273 486\n281 486\n289 486\n297 486\n305 486\n313 486\n321 486\n329 486\n337 486\n345 486\n353 486\n361 486\n369 486\n377 486\n385 486\n393 486\n401 486\n409 486\n417 486\n425 486\n433 486\n441 486\n449 486\n457 486\n465 486\n473 486\n481 486\n489 486\n497 486\n505 486\n513 486\n521 486\n529 486\n537 486\n545 486\n553 486\n561 486\n85 493\n93 493\n101 493\n109 493\n117 493\n125 493\n133 493\n141 493\n149 493\n157 493\n165 493\n173 493\n181 493\n189 493\n197 493\n205 493\n213 493\n221 493\n229 493\n237 493\n245 493\n253 493\n261 493\n269 493\n277 493\n285 493\n293 493\n301 493\n309 493\n317 493\n325 493\n333 493\n341 493\n349 493\n357 493\n365 493\n373 493\n381 493\n389 493\n397 493\n405 493\n413 493\n421 493\n429 493\n437 493\n445 493\n453 493\n461 493\n469 493\n477 493\n485 493\n493 493\n501 493\n509 493\n517 493\n525 493\n533 493\n541 493\n549 493\n89 500\n97 500\n105 500\n113 500\n121 500\n129 500\n137 500\n145 500\n153 500\n161 500\n169 500\n177 500\n185 500\n193 500\n201 500\n209 500\n217 500\n225 500\n233 500\n241 500\n249 500\n257 500\n265 500\n273 500\n281 500\n289 500\n297 500\n305 500\n313 500\n321 500\n329 500\n337 500\n345 500\n353 500\n361 500\n369 500\n377 500\n385 500\n393 500\n401 500\n409 500\n417 500\n425 500\n433 500\n441 500\n449 500\n457 500\n465 500\n473 500\n481 500\n489 500\n497 500\n505 500\n513 500\n521 500\n529 500\n537 500\n545 500\n93 507\n101 507\n109 507\n117 507\n125 507\n133 507\n141 507\n149 507\n157 507\n165 507\n173 507\n181 507\n189 507\n197 507\n205 507\n213 507\n221 507\n229 507\n237 507\n245 507\n253 507\n261 507\n269 507\n277 507\n285 507\n293 507\n301 507\n309 507\n317 507\n325 507\n333 507\n341 507\n349 507\n357 507\n365 507\n373 507\n381 507\n389 507\n397 507\n405 507\n413 507\n421 507\n429 507\n437 507\n445 507\n453 507\n461 507\n469 507\n477 507\n485 507\n493 507\n501 507\n509 507\n517 507\n525 507\n533 507\n541 507\n97 514\n105 514\n113 514\n121 514\n129 514\n137 514\n145 514\n153 514\n161 514\n169 514\n177 514\n185 514\n193 514\n201 514\n209 514\n217 514\n225 514\n233 514\n241 514\n249 514\n257 514\n265 514\n273 514\n281 514\n289 514\n297 514\n305 514\n313 514\n321 514\n329 514\n337 514\n345 514\n353 514\n361 514\n369 514\n377 514\n385 514\n393 514\n401 514\n409 514\n417 514\n425 514\n433 514\n441 514\n449 514\n457 514\n465 514\n473 514\n481 514\n489 514\n497 514\n505 514\n513 514\n521 514\n529 514\n537 514\n109 521\n117 521\n125 521\n133 521\n141 521\n149 521\n157 521\n165 521\n173 521\n181 521\n189 521\n197 521\n205 521\n213 521\n221 521\n229 521\n237 521\n245 521\n253 521\n261 521\n269 521\n277 521\n285 521\n293 521\n301 521\n309 521\n317 521\n325 521\n333 521\n341 521\n349 521\n357 521\n365 521\n373 521\n381 521\n389 521\n397 521\n405 521\n413 521\n421 521\n429 521\n437 521\n445 521\n453 521\n461 521\n469 521\n477 521\n485 521\n493 521\n501 521\n509 521\n517 521\n525 521\n113 528\n121 528\n129 528\n137 528\n145 528\n153 528\n161 528\n169 528\n177 528\n185 528\n193 528\n201 528\n209 528\n217 528\n225 528\n233 528\n241 528\n249 528\n257 528\n265 528\n273 528\n281 528\n289 528\n297 528\n305 528\n313 528\n321 528\n329 528\n337 528\n345 528\n353 528\n361 528\n369 528\n377 528\n385 528\n393 528\n401 528\n409 528\n417 528\n425 528\n433 528\n441 528\n449 528\n457 528\n465 528\n473 528\n481 528\n489 528\n497 528\n505 528\n513 528\n521 528\n117 535\n125 535\n133 535\n141 535\n149 535\n157 535\n165 535\n173 535\n181 535\n189 535\n197 535\n205 535\n213 535\n221 535\n229 535\n237 535\n245 535\n253 535\n261 535\n269 535\n277 535\n285 535\n293 535\n301 535\n309 535\n317 535\n325 535\n333 535\n341 535\n349 535\n357 535\n365 535\n373 535\n381 535\n389 535\n397 535\n405 535\n413 535\n421 535\n429 535\n437 535\n445 535\n453 535\n461 535\n469 535\n477 535\n485 535\n493 535\n501 535\n509 535\n517 535\n129 542\n137 542\n145 542\n153 542\n161 542\n169 542\n177 542\n185 542\n193 542\n201 542\n209 542\n217 542\n225 542\n233 542\n241 542\n249 542\n257 542\n265 542\n273 542\n281 542\n289 542\n297 542\n305 542\n313 542\n321 542\n329 542\n337 542\n345 542\n353 542\n361 542\n369 542\n377 542\n385 542\n393 542\n401 542\n409 542\n417 542\n425 542\n433 542\n441 542\n449 542\n457 542\n465 542\n473 542\n481 542\n489 542\n497 542\n505 542\n133 549\n141 549\n149 549\n157 549\n165 549\n173 549\n181 549\n189 549\n197 549\n205 549\n213 549\n221 549\n229 549\n237 549\n245 549\n253 549\n261 549\n269 549\n277 549\n285 549\n293 549\n301 549\n309 549\n317 549\n325 549\n333 549\n341 549\n349 549\n357 549\n365 549\n373 549\n381 549\n389 549\n397 549\n405 549\n413 549\n421 549\n429 549\n437 549\n445 549\n453 549\n461 549\n469 549\n477 549\n485 549\n493 549\n501 549\n145 556\n153 556\n161 556\n169 556\n177 556\n185 556\n193 556\n201 556\n209 556\n217 556\n225 556\n233 556\n241 556\n249 556\n257 556\n265 556\n273 556\n281 556\n289 556\n297 556\n305 556\n313 556\n321 556\n329 556\n337 556\n345 556\n353 556\n361 556\n369 556\n377 556\n385 556\n393 556\n401 556\n409 556\n417 556\n425 556\n433 556\n441 556\n449 556\n457 556\n465 556\n473 556\n481 556\n489 556\n157 563\n165 563\n173 563\n181 563\n189 563\n197 563\n205 563\n213 563\n221 563\n229 563\n237 563\n245 563\n253 563\n261 563\n269 563\n277 563\n285 563\n293 563\n301 563\n309 563\n317 563\n325 563\n333 563\n341 563\n349 563\n357 563\n365 563\n373 563\n381 563\n389 563\n397 563\n405 563\n413 563\n421 563\n429 563\n437 563\n445 563\n453 563\n461 563\n469 563\n477 563\n169 570\n177 570\n185 570\n193 570\n201 570\n209 570\n217 570\n225 570\n233 570\n241 570\n249 570\n257 570\n265 570\n273 570\n281 570\n289 570\n297 570\n305 570\n313 570\n321 570\n329 570\n337 570\n345 570\n353 570\n361 570\n369 570\n377 570\n385 570\n393 570\n401 570\n409 570\n417 570\n425 570\n433 570\n441 570\n449 570\n457 570\n465 570\n181 577\n189 577\n197 577\n205 577\n213 577\n221 577\n229 577\n237 577\n245 577\n253 577\n261 577\n269 577\n277 577\n285 577\n293 577\n301 577\n309 577\n317 577\n325 577\n333 577\n341 577\n349 577\n357 577\n365 577\n373 577\n381 577\n389 577\n397 577\n405 577\n413 577\n421 577\n429 577\n437 577\n445 577\n453 577\n193 584\n201 584\n209 584\n217 584\n225 584\n233 584\n241 584\n249 584\n257 584\n265 584\n273 584\n281 584\n289 584\n297 584\n305 584\n313 584\n321 584\n329 584\n337 584\n345 584\n353 584\n361 584\n369 584\n377 584\n385 584\n393 584\n401 584\n409 584\n417 584\n425 584\n433 584\n441 584\n205 591\n213 591\n221 591\n229 591\n237 591\n245 591\n253 591\n261 591\n269 591\n277 591\n285 591\n293 591\n301 591\n309 591\n317 591\n325 591\n333 591\n341 591\n349 591\n357 591\n365 591\n373 591\n381 591\n389 591\n397 591\n405 591\n413 591\n421 591\n429 591\n225 598\n233 598\n241 598\n249 598\n257 598\n265 598\n273 598\n281 598\n289 598\n297 598\n305 598\n313 598\n321 598\n329 598\n337 598\n345 598\n353 598\n361 598\n369 598\n377 598\n385 598\n393 598\n401 598\n409 598\n253 605\n261 605\n269 605\n277 605\n285 605\n293 605\n301 605\n309 605\n317 605\n325 605\n333 605\n341 605\n349 605\n357 605\n365 605\n373 605\n381 605\n297 612\n305 612\n313 612\n321 612\n329 612\n337 612","format":{"type":"dsv","delimiter":" ","parse":{"x":"number","y":"number"}}},
"mark":{"type":"point","shape":"circle","filled":true,"fill":"white","stroke":"#444444","strokeWidth":1.9,"size":38,"opacity":1,"fillOpacity":1,"strokeOpacity":1}},
{"data":{"name":"blue"},"mark":{"type":"point","shape":"circle","filled":true,"fill":"#7eaaf5","stroke":"#263a6b","strokeWidth":1.6,"size":80,"opacity":1,"fillOpacity":1,"strokeOpacity":1}},
{"data":{"name":"blue"},"mark":{"type":"point","shape":"circle","filled":true,"fill":"#7eaaf5","strokeWidth":0,"size":64,"opacity":1,"fillOpacity":1}},
{"data":{"name":"center"},"mark":{"type":"point","shape":"circle","filled":true,"fill":"#24345e","strokeWidth":0,"size":3,"opacity":1,"fillOpacity":1}}
]}
